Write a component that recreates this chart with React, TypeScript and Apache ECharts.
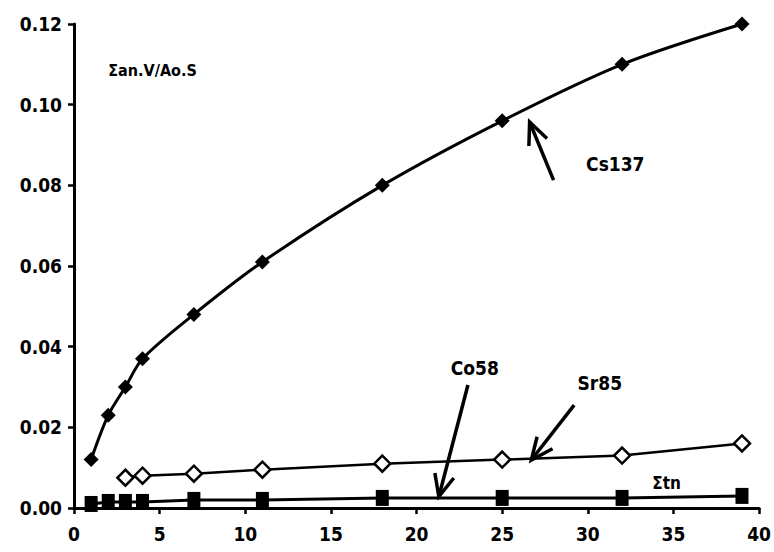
import React, { useEffect, useRef } from "react";
import * as echarts from "echarts";

const xCs = [1, 2, 3, 4, 7, 11, 18, 25, 32, 39];
const cs137 = [0.012, 0.023, 0.030, 0.037, 0.048, 0.061, 0.080, 0.096, 0.110, 0.120];
const xSr = [3, 4, 7, 11, 18, 25, 32, 39];
const sr85 = [0.0075, 0.008, 0.0085, 0.0095, 0.011, 0.012, 0.013, 0.016];
const xCo = [1, 2, 3, 4, 7, 11, 18, 25, 32, 39];
const co58 = [0.001, 0.0015, 0.0015, 0.0015, 0.002, 0.002, 0.0025, 0.0025, 0.0025, 0.003];
const yTicks = [0, 0.02, 0.04, 0.06, 0.08, 0.1, 0.12];
const xTicks = [0, 5, 10, 15, 20, 25, 30, 35, 40];

// annotations in data coordinates: [tail, tip]
const arrows: [number, number][][] = [
  [[28.0, 0.0813], [26.6, 0.0957]],
  [[23.0, 0.0305], [21.3, 0.0028]],
  [[29.2, 0.0255], [26.7, 0.0119]],
];
const labels: { text: string; at: [number, number]; align: string; size: number }[] = [
  { text: "Cs137", at: [29.9, 0.0853], align: "left", size: 19 },
  { text: "Co58", at: [23.4, 0.0347], align: "center", size: 19 },
  { text: "Sr85", at: [30.7, 0.031], align: "center", size: 19 },
  { text: "Σtn", at: [34.6, 0.0062], align: "center", size: 17 },
  { text: "Σan.V/Ao.S", at: [2.0, 0.1085], align: "left", size: 16 },
];

const FONT = "'DejaVu Sans Condensed', 'Liberation Sans', Arial, sans-serif";

export default function App() {
  const ref = useRef<HTMLDivElement>(null);
  useEffect(() => {
    const chart = echarts.init(ref.current!, null, { renderer: "svg" });
    chart.setOption({
      animation: false,
      backgroundColor: "#fff",
      grid: { left: 74, right: 14, top: 24, bottom: 44 },
      xAxis: {
        type: "value",
        min: 0,
        max: 40,
        interval: 5,
        axisLine: { lineStyle: { color: "#000", width: 3 } },
        axisTick: { show: true, length: 6, inside: false, lineStyle: { color: "#000", width: 2.5 } },
        splitLine: { show: false },
        axisLabel: {
          color: "#000",
          fontFamily: FONT,
          fontWeight: "bold",
          fontSize: 19,
          margin: 16,
          formatter: (v: number) => (xTicks.includes(v) ? String(v) : ""),
        },
      },
      yAxis: {
        type: "value",
        min: 0,
        max: 0.12,
        interval: 0.02,
        axisLine: { show: true, lineStyle: { color: "#000", width: 3 } },
        axisTick: { show: true, length: 6, lineStyle: { color: "#000", width: 2.5 } },
        splitLine: { show: false },
        axisLabel: {
          color: "#000",
          fontFamily: FONT,
          fontWeight: "bold",
          fontSize: 19,
          margin: 12,
          formatter: (v: number) => (yTicks.some((t) => Math.abs(t - v) < 1e-9) ? v.toFixed(2) : ""),
        },
      },
      series: [
        {
          name: "Cs137",
          type: "line",
          data: xCs.map((x, i) => [x, cs137[i]]),
          smooth: 0.3,
          symbol: "diamond",
          symbolSize: 15,
          lineStyle: { color: "#000", width: 3 },
          itemStyle: { color: "#000" },
        },
        {
          name: "Sr85",
          type: "line",
          data: xSr.map((x, i) => [x, sr85[i]]),
          symbol: "diamond",
          symbolSize: 16,
          lineStyle: { color: "#000", width: 2.5 },
          itemStyle: { color: "#fff", borderColor: "#000", borderWidth: 2.5 },
        },
        {
          name: "Co58",
          type: "line",
          data: xCo.map((x, i) => [x, co58[i]]),
          symbol: "rect",
          symbolSize: [13, 16],
          lineStyle: { color: "#000", width: 3 },
          itemStyle: { color: "#000" },
        },
      ],
    });

    const graphics: any[] = [];
    arrows.forEach(([tail, tip]) => {
      const a = chart.convertToPixel({ gridIndex: 0 }, tail) as number[];
      const b = chart.convertToPixel({ gridIndex: 0 }, tip) as number[];
      const ang = Math.atan2(a[1] - b[1], a[0] - b[0]);
      const hl = 24;
      const spread = 0.42;
      const p1 = [b[0] + hl * Math.cos(ang + spread), b[1] + hl * Math.sin(ang + spread)];
      const p2 = [b[0] + hl * Math.cos(ang - spread), b[1] + hl * Math.sin(ang - spread)];
      graphics.push({
        type: "line",
        shape: { x1: a[0], y1: a[1], x2: b[0], y2: b[1] },
        style: { stroke: "#000", lineWidth: 3.5 },
      });
      graphics.push({
        type: "polyline",
        shape: { points: [p1, b, p2] },
        style: { stroke: "#000", lineWidth: 3.5, fill: null },
      });
    });
    labels.forEach((l) => {
      const p = chart.convertToPixel({ gridIndex: 0 }, l.at) as number[];
      graphics.push({
        type: "text",
        x: p[0],
        y: p[1],
        style: {
          text: l.text,
          fill: "#000",
          font: `bold ${l.size}px ${FONT}`,
          align: l.align,
          verticalAlign: "middle",
        },
      });
    });
    chart.setOption({ graphic: graphics });
    return () => chart.dispose();
  }, []);
  return (
    <div
      ref={ref}
      style={{ position: "absolute", left: 0, top: 0, width: 774, height: 552 }}
    />
  );
}
